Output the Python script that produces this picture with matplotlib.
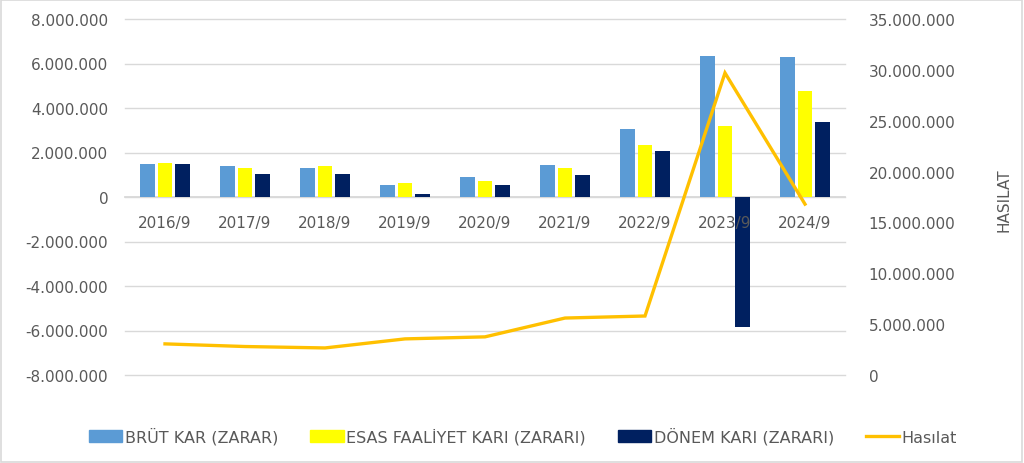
import matplotlib
matplotlib.use("Agg")
import matplotlib.pyplot as plt
from matplotlib.patches import Rectangle
from matplotlib.lines import Line2D
from matplotlib.ticker import FuncFormatter, MultipleLocator

# ---- data ----
categories = ["2016/9", "2017/9", "2018/9", "2019/9", "2020/9", "2021/9", "2022/9", "2023/9", "2024/9"]
brut_kar = [1500000, 1380000, 1320000, 560000, 910000, 1450000, 3060000, 6330000, 6290000]
esas_faaliyet = [1545000, 1320000, 1380000, 650000, 740000, 1290000, 2320000, 3200000, 4770000]
donem_kari = [1500000, 1045000, 1045000, 150000, 530000, 970000, 2050000, -5850000, 3390000]
hasilat = [3060000, 2800000, 2660000, 3550000, 3750000, 5600000, 5800000, 29700000, 16800000]
series_names = ["BRÜT KAR (ZARAR)", "ESAS FAALİYET KARI (ZARARI)", "DÖNEM KARI (ZARARI)", "Hasılat"]
right_axis_title = "HASILAT"

# ---- style ----
TXT = "#595959"
GRID = "#d9d9d9"
C_BRUT = "#5B9BD5"
C_ESAS = "#FFFF00"
C_DONEM = "#002060"
C_LINE = "#FFC000"
FS = 11

plt.rcParams["font.family"] = ["DejaVu Sans"]

fig = plt.figure(figsize=(10.24, 4.64), dpi=100)
fig.patches.append(Rectangle((0.001, 0.002), 0.997, 0.995, transform=fig.transFigure,
                             fill=False, edgecolor=GRID, linewidth=1.2))

ax = fig.add_axes([125 / 1024, 1 - 376 / 464, 720 / 1024, 356 / 464])
ax2 = ax.twinx()

x = list(range(len(categories)))
w = 0.18
off = 0.219
ax.bar([i - off for i in x], brut_kar, width=w, color=C_BRUT, zorder=3)
ax.bar(x, esas_faaliyet, width=w, color=C_ESAS, zorder=3)
ax.bar([i + off for i in x], donem_kari, width=w, color=C_DONEM, zorder=3)

ax.set_xlim(-0.5, len(categories) - 0.5)
ax.set_ylim(-8000000, 8000000)
ax.yaxis.set_major_locator(MultipleLocator(2000000))
ax2.set_ylim(0, 35000000)
ax2.yaxis.set_major_locator(MultipleLocator(5000000))

fmt = FuncFormatter(lambda v, p: f"{int(round(v)):,}".replace(",", "."))
ax.yaxis.set_major_formatter(fmt)
ax2.yaxis.set_major_formatter(fmt)

ax.grid(axis="y", color=GRID, linewidth=1.0)
ax.set_axisbelow(True)
for gl in ax.get_ygridlines():
    gl.set_clip_on(False)
for s in ["top", "right", "left"]:
    ax.spines[s].set_visible(False)
ax.spines["bottom"].set_position(("data", 0))
ax.spines["bottom"].set_color(GRID)
ax.spines["bottom"].set_linewidth(1.3)
ax.spines["bottom"].set_zorder(2.8)
for s in ax2.spines.values():
    s.set_visible(False)

ax.set_xticks(x)
ax.set_xticklabels(categories)
ax.xaxis.set_zorder(5)
ax.tick_params(axis="x", length=0, pad=13, labelsize=FS, labelcolor=TXT)
ax.tick_params(axis="y", length=0, pad=12, labelsize=FS, labelcolor=TXT)
ax2.tick_params(axis="y", length=0, pad=17, labelsize=FS, labelcolor=TXT)

ax2.plot(x, hasilat, color=C_LINE, linewidth=2.4, solid_joinstyle="miter", zorder=4)

fig.text(1004 / 1024, 1 - 200 / 464, right_axis_title, rotation=90, ha="center", va="center",
         fontsize=FS, color=TXT)

handles = [
    Rectangle((0, 0), 1, 1, color=C_BRUT),
    Rectangle((0, 0), 1, 1, color=C_ESAS),
    Rectangle((0, 0), 1, 1, color=C_DONEM),
    Line2D([0], [0], color=C_LINE, linewidth=2.4),
]
leg = fig.legend(handles, series_names, loc="center", bbox_to_anchor=(523 / 1024, 1 - 437 / 464),
                 ncol=4, frameon=False, fontsize=11.5, handlelength=2.1, handleheight=0.75,
                 handletextpad=0.15, columnspacing=2.0)
for t in leg.get_texts():
    t.set_color(TXT)

fig.savefig("out.png", dpi=100)
